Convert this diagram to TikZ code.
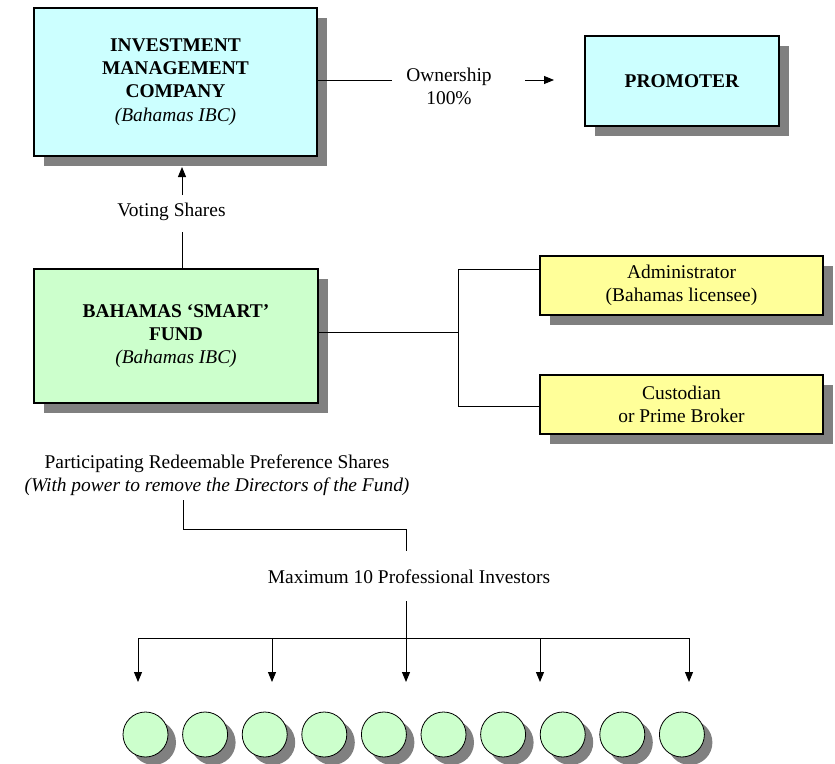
\documentclass[tikz,border=0pt]{standalone}
\usepackage{fontspec}
\setmainfont{Liberation Serif}
\usetikzlibrary{arrows.meta,shadows}
\definecolor{cyanfill}{HTML}{CCFFFF}
\definecolor{greenfill}{HTML}{CCFFCC}
\definecolor{yellowfill}{HTML}{FFFF99}
\definecolor{shgray}{HTML}{808080}
\begin{document}
\begin{tikzpicture}[x=1bp,y=-1bp,
  font=\fontsize{19.5}{23.3}\selectfont,
  box/.style={draw=black, line width=1.2bp, align=center, inner sep=0pt},
  sh/.style={drop shadow={shadow xshift=10bp,shadow yshift=-10bp,fill=shgray,opacity=1}},
  csh/.style={drop shadow={shadow xshift=8bp,shadow yshift=-8bp,fill=shgray,opacity=1}},
  lbl/.style={align=center, inner sep=0pt},
  conn/.style={line width=1bp},
  arr/.style={line width=1bp,-{Triangle[length=10bp,width=8bp]}},
  inv/.style={circle, draw=black, line width=0.8bp, fill=greenfill, minimum size=45bp, inner sep=0pt, csh}
]
\useasboundingbox (0,0) rectangle (835,764);

% boxes
\node[box, sh, fill=cyanfill, minimum width=283bp, minimum height=148bp] (imc) at (175.5,82)
  {\textbf{INVESTMENT}\\\textbf{MANAGEMENT}\\\textbf{COMPANY}\\\textit{(Bahamas IBC)}};
\node[box, sh, fill=cyanfill, minimum width=194bp, minimum height=90bp] (prom) at (682,81)
  {\textbf{PROMOTER}};
\node[box, sh, fill=greenfill, minimum width=284bp, minimum height=134bp] (fund) at (176,336)
  {\textbf{BAHAMAS `SMART'}\\\textbf{FUND}\\\textit{(Bahamas IBC)}};
\node[box, sh, fill=yellowfill, minimum width=283bp, minimum height=59bp] (admin) at (681.5,285.5)
  {Administrator\\(Bahamas licensee)};
\node[box, sh, fill=yellowfill, minimum width=283bp, minimum height=59bp] (cust) at (681.5,404.5)
  {Custodian\\or Prime Broker};

% labels
\node[lbl] (own) at (449,86) {Ownership\\100\%};
\node[lbl] (vs) at (171.5,212) {Voting Shares};
\node[lbl] (prps) at (217,475.5) {Participating Redeemable Preference Shares\\\textit{(With power to remove the Directors of the Fund)}};
\node[lbl] (maxi) at (409,577) {Maximum 10 Professional Investors};

% ownership connector
\coordinate (o1) at (392,80);
\coordinate (o2) at (525,80);
\coordinate (o3) at (554,80);
\draw[conn] (imc.east |- o1) -- (o1);
\draw[arr] (o2) -- (o3);

% voting shares connector
\coordinate (v1) at (182,195);
\coordinate (v2) at (182,167);
\coordinate (v3) at (182,232);
\draw[arr] (v1) -- (v2);
\draw[conn] (v3) -- (fund.north -| v3);

% bracket to service providers
\coordinate (br) at (458,332);
\coordinate (bt) at (458,269);
\coordinate (bb) at (458,406);
\draw[conn] (fund.east |- br) -- (br);
\draw[conn] (admin.west |- bt) -- (bt) -- (bb) -- (cust.west |- bb);

% shares to investors
\coordinate (p1) at (183,500);
\coordinate (p2) at (183,529);
\coordinate (p3) at (406,529);
\coordinate (p4) at (406,551);
\draw[conn] (p1) -- (p2) -- (p3) -- (p4);

\coordinate (m1) at (406,601);
\coordinate (m2) at (406,638);
\coordinate (bl) at (138,638);
\coordinate (brr) at (690,638);
\draw[conn] (m1) -- (m2);
\draw[conn] (bl) -- (brr);
\foreach \x in {138,272,406,540,689}{
  \coordinate (a\x) at (\x,638);
  \coordinate (t\x) at (\x,682);
  \draw[arr] (a\x) -- (t\x);
}

% investors
\foreach \i in {0,...,9}{
  \node[inv] (inv\i) at ({145.5+59.6*\i},734.5) {};
}
\end{tikzpicture}
\end{document}
